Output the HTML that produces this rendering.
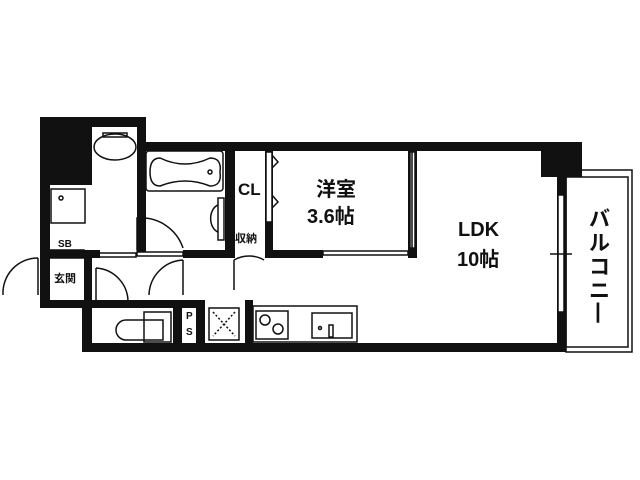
<!DOCTYPE html>
<html><head><meta charset="utf-8"><style>
html,body{margin:0;padding:0;background:#fff;}
svg{display:block}
text{font-family:"Liberation Sans","Noto Sans CJK JP",sans-serif;font-weight:bold;fill:#111}
</style></head><body>
<svg width="640" height="480" viewBox="0 0 640 480" xmlns="http://www.w3.org/2000/svg">
<g fill="#111">
<!-- left block -->
<rect x="40" y="117" width="52" height="68"/>
<rect x="40" y="117" width="106" height="10"/>
<rect x="40" y="117" width="10" height="190"/>
<rect x="137" y="117" width="9" height="135"/>
<!-- top wall -->
<rect x="137" y="142" width="428" height="9"/>
<rect x="541" y="142" width="41" height="35"/>
<!-- right wall -->
<rect x="557" y="142" width="9" height="210"/>
<!-- bottom wall -->
<rect x="82" y="343" width="484" height="9"/>
<rect x="82" y="300" width="10" height="52"/>
<rect x="40" y="300" width="165" height="8"/>
<!-- mid horizontal wall -->
<rect x="40" y="250" width="52" height="8"/>
<rect x="92" y="250" width="8" height="8"/>
<rect x="183" y="250" width="52" height="8"/>
<rect x="225" y="150" width="10" height="108"/>
<rect x="265" y="150" width="8" height="108"/>
<rect x="273" y="250" width="50" height="8"/>
<rect x="408" y="150" width="9" height="108"/>
<rect x="173" y="300" width="9" height="50"/>
<rect x="196" y="300" width="9" height="50"/>
<rect x="245" y="300" width="8" height="50"/>
<rect x="84" y="258" width="8" height="42"/>
<rect x="40" y="185" width="10" height="120"/>
</g>
<g fill="none" stroke="#111" stroke-width="1.5">
<!-- balcony -->
<rect x="566" y="170" width="66" height="182"/>
<rect x="566" y="177" width="62" height="170"/>
<!-- windows -->
<rect x="558" y="195" width="6" height="117" fill="#fff"/>
<rect x="410" y="152" width="5" height="96" fill="#fff"/>
<line x1="412" y1="152" x2="412" y2="248"/>
<line x1="550" y1="254" x2="572" y2="254"/>
<!-- toilet bowl washroom -->
<ellipse cx="115" cy="147" rx="21" ry="13"/>
<rect x="103" y="133" width="24" height="4"/>
<!-- washing machine -->
<rect x="51" y="189" width="34" height="34"/>
<circle cx="61" cy="198" r="2"/>
<!-- bath -->
<rect x="146" y="151" width="77" height="40" rx="3"/>
<path d="M160 158 Q185 170 210 158 Q222 158 220 172 Q222 186 210 186 Q185 176 160 186 Q150 186 150 172 Q150 158 160 158Z"/>
<circle cx="210" cy="172" r="2"/>
<!-- washbasin -->
<rect x="218" y="198" width="6" height="42"/>
<path d="M218 205 A10 14 0 0 0 218 232"/>
<!-- doors -->
<path d="M139 218 L139 248 M139 218 A44 44 0 0 1 183 248"/>
<rect x="137" y="218" width="8" height="32"/>
<path d="M183 260 L183 295 M183 260 A36 36 0 0 0 149 295"/>
<path d="M96 268 L96 302 M96 268 A34 34 0 0 1 128 302"/>
<path d="M38 258 L38 295 M38 258 A35 35 0 0 0 3 295"/>
<path d="M234 260 L234 290 M234 260 A30 30 0 0 1 264 260"/>
<!-- SB shelf -->
<rect x="50" y="250" width="34" height="8"/>
<rect x="94" y="253" width="42" height="4"/>
<rect x="137" y="252" width="46" height="4"/>
<rect x="323" y="251" width="85" height="4" fill="#fff"/>
<!-- CL doors -->
<rect x="266" y="152" width="6" height="70" fill="#fff"/>
<path d="M272 155 L278 162 L272 168 M272 195 L278 202 L272 208"/>
<!-- toilet -->
<path d="M126 320 L163 320 L163 340 L126 340 A10 10 0 0 1 126 320Z"/>
<rect x="144" y="312" width="27" height="30"/>
<!-- fridge box -->
<rect x="209" y="308" width="30" height="32"/>
<path d="M213 312 L235 336 M235 312 L213 336" stroke-dasharray="2,2"/>
<!-- kitchen -->
<rect x="253" y="306" width="104" height="36"/>
<rect x="256" y="311" width="32" height="28"/>
<circle cx="265" cy="320" r="5"/><circle cx="278" cy="329" r="5"/>
<rect x="312" y="313" width="40" height="25"/>
<circle cx="320" cy="328" r="1.5"/>
<rect x="329" y="325" width="4" height="12"/>
</g>
<text x="238" y="195" font-size="17">CL</text>
<text x="316" y="196" font-size="20">洋室</text>
<text x="307" y="223" font-size="20">3.6帖</text>
<text x="458" y="236" font-size="20">LDK</text>
<text x="457" y="266" font-size="20">10帖</text>
<g font-size="21"><text x="589" y="226">バ</text><text x="589" y="250">ル</text><text x="589" y="274">コ</text><text x="589" y="298">ニ</text><text x="596" y="302" font-size="1"> </text></g>
<text x="598" y="318" font-size="21" text-anchor="middle">|</text>
<text x="58" y="247" font-size="10">SB</text>
<text x="54" y="282" font-size="11">玄関</text>
<text x="235" y="242" font-size="11">収納</text>
<text x="186" y="319" font-size="10">P</text>
<text x="186" y="335" font-size="10">S</text>
</svg>
</body></html>
